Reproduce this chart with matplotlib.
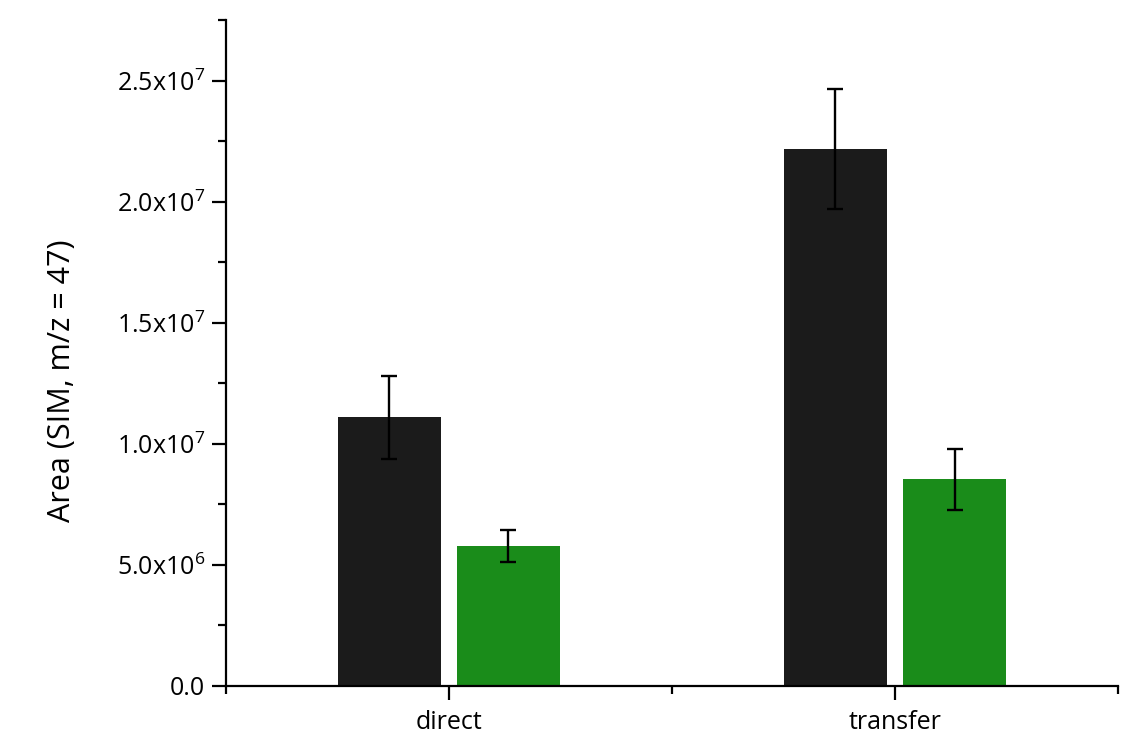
import numpy as np
import matplotlib
matplotlib.use('Agg')
import matplotlib.pyplot as plt
from matplotlib.ticker import MultipleLocator, FixedLocator, FuncFormatter

plt.rcParams['font.family'] = ['Open Sans', 'DejaVu Sans']

groups = ['direct', 'transfer']
area_black = [1.109e7, 2.217e7]
err_black = [1.70e6, 2.48e6]
area_green = [5.79e6, 8.54e6]
err_green = [0.66e6, 1.26e6]


def sci_fmt(v, pos):
    if v == 0:
        return '0.0'
    exp = int(np.floor(np.log10(abs(v))))
    mant = v / 10**exp
    return r'%.1fx10$^{\mathregular{%d}}$' % (mant, exp)


def main():
    fig = plt.figure(figsize=(11.32, 7.55), dpi=100)
    ax = fig.add_axes([0.1996, 0.0914, 0.7880, 0.8821])

    x = np.arange(len(groups))
    w = 0.23
    off = 0.1335
    ekw = dict(ecolor='black', elinewidth=1.7, capsize=5.5, capthick=1.7)
    ax.bar(x - off, area_black, w, color='#1b1b1b', yerr=err_black,
           error_kw=ekw, zorder=2)
    ax.bar(x + off, area_green, w, color='#1a8c1a', yerr=err_green,
           error_kw=ekw, zorder=2)

    ax.set_xlim(-0.5, 1.5)
    ax.set_ylim(0, 2.75e7)

    ax.spines['top'].set_visible(False)
    ax.spines['right'].set_visible(False)
    for s in ('left', 'bottom'):
        ax.spines[s].set_linewidth(1.6)

    ax.xaxis.set_major_locator(FixedLocator(x))
    ax.set_xticklabels(groups)
    ax.xaxis.set_minor_locator(FixedLocator([-0.5, 0.5, 1.5]))
    ax.yaxis.set_major_locator(MultipleLocator(5e6))
    ax.yaxis.set_minor_locator(MultipleLocator(2.5e6))
    ax.yaxis.set_major_formatter(FuncFormatter(sci_fmt))

    ax.tick_params(which='major', direction='out', length=10, width=1.6,
                   labelsize=18, pad=5)
    ax.tick_params(which='minor', direction='out', length=5.5, width=1.6)
    ax.tick_params(axis='x', which='major', pad=7)

    ax.set_ylabel('Area (SIM, m/z = 47)', fontsize=22)
    ax.yaxis.set_label_coords(-0.167, 0.459)

    fig.savefig('out.png', dpi=100, facecolor='white')
    plt.close('all')


if __name__ == '__main__':
    main()
